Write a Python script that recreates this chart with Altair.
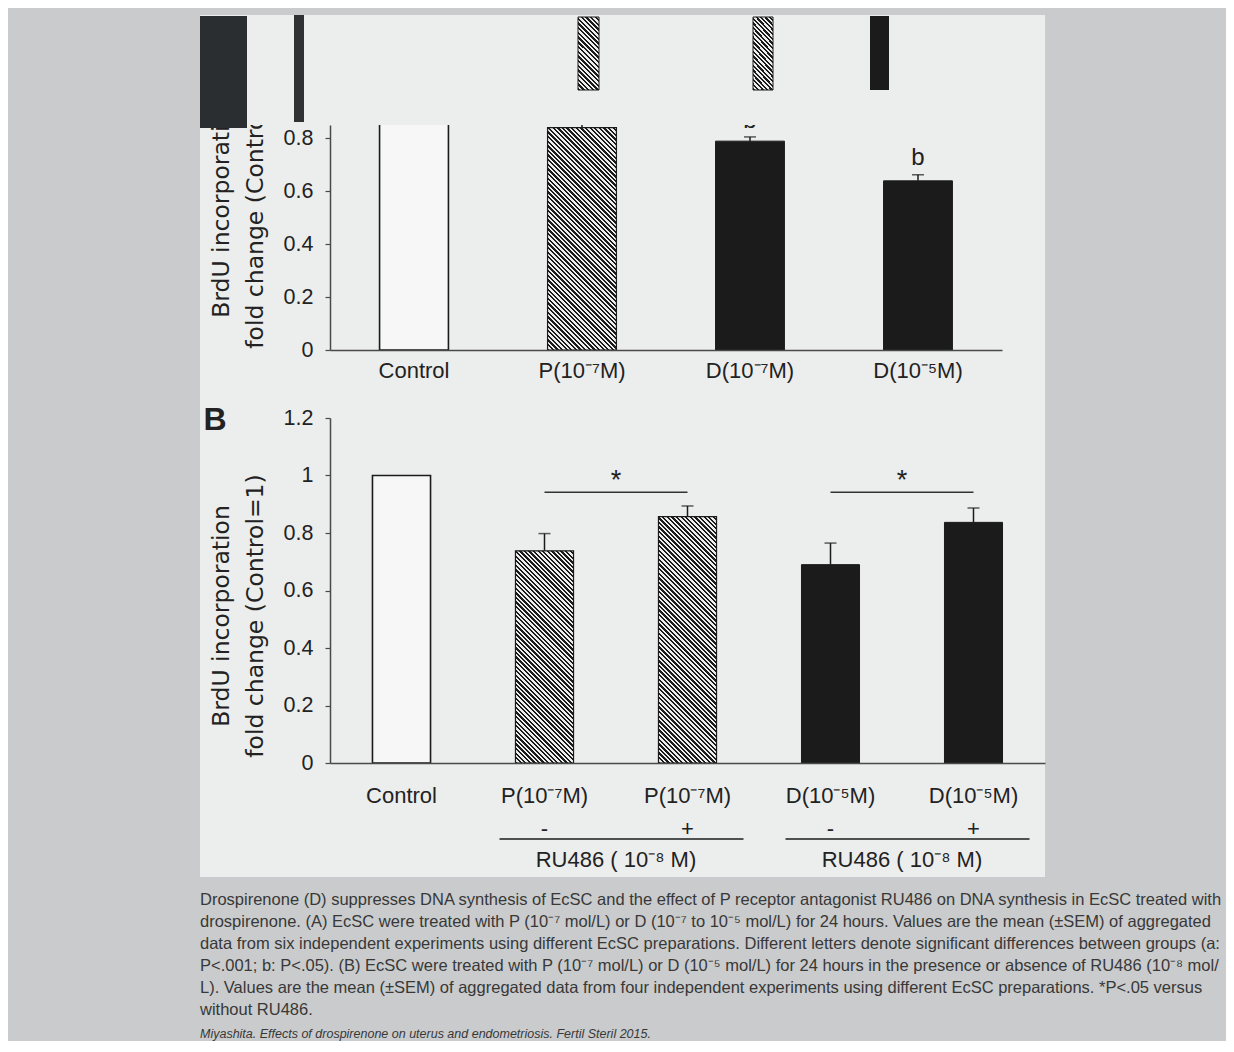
import altair as alt
import pandas as pd

# ---------------- data ----------------
a_keys = ["C", "P7", "D7", "D5"]
a_labels = ["Control", "P(10⁻⁷M)", "D(10⁻⁷M)", "D(10⁻⁵M)"]
a_means = [1.0, 0.84, 0.789, 0.639]
a_sems = [0.0, 0.02, 0.016, 0.023]
a_letters = ["", "", "b", "b"]
a_style = ["open", "hatch", "solid", "solid"]

b_keys = ["C", "Pm", "Pp", "Dm", "Dp"]
b_labels = ["Control", "P(10⁻⁷M)", "P(10⁻⁷M)", "D(10⁻⁵M)", "D(10⁻⁵M)"]
b_means = [1.0, 0.738, 0.857, 0.690, 0.837]
b_sems = [0.0, 0.060, 0.037, 0.075, 0.050]
b_ru486 = ["", "-", "+", "-", "+"]
b_style = ["open", "hatch", "hatch", "solid", "solid"]
b_pair_start = ["Pm", "Dm"]
b_pair_end = ["Pp", "Dp"]
b_sig_level = [0.942, 0.942]
b_sig_mark = ["*", "*"]
ru486_label = "RU486 ( 10⁻⁸ M)"

y_title = ["BrdU incorporation", "fold change (Control=1)"]
a_ticks = [0, 0.2, 0.4, 0.6, 0.8]
b_ticks = [0, 0.2, 0.4, 0.6, 0.8, 1.0, 1.2]

caption_lines = [
    "Drospirenone (D) suppresses DNA synthesis of EcSC and the effect of P receptor antagonist RU486 on DNA synthesis in EcSC treated with",
    "drospirenone. (A) EcSC were treated with P (10⁻⁷ mol/L) or D (10⁻⁷ to 10⁻⁵ mol/L) for 24 hours. Values are the mean (±SEM) of aggregated",
    "data from six independent experiments using different EcSC preparations. Different letters denote significant differences between groups (a:",
    "P<.001; b: P<.05). (B) EcSC were treated with P (10⁻⁷ mol/L) or D (10⁻⁵ mol/L) for 24 hours in the presence or absence of RU486 (10⁻⁸ mol/",
    "L). Values are the mean (±SEM) of aggregated data from four independent experiments using different EcSC preparations. *P<.05 versus",
    "without RU486.",
]
source_line = "Miyashita. Effects of drospirenone on uterus and endometriosis. Fertil Steril 2015."

# ---------------- style ----------------
OUTER = "#c9cbcc"
PANEL = "#eceded"
INK = "#1b1b1b"
AXIS = "#4a4a4a"
TXT = "#222222"
LABEL_FONT = "Liberation Sans"
TITLE_FONT = "DejaVu Sans"

WA, HA, TOPA = 672, 225, 0.85
WB, HB, TOPB = 715, 345, 1.2
LEFT = 130
PI_A, PI_B = 0.59, 0.594


def hatch(w, h, period=4.6, frac=0.5, dark=INK, light="#eeeeee"):
    a = w / h
    k = (a + 1) / (a * a + 1)
    n = max(1, int(round((w + h) / period)))
    stops = []
    for i in range(n):
        o0, o1, o2 = i / n, (i + frac) / n, (i + 1) / n
        stops += [
            alt.GradientStop(color=dark, offset=o0),
            alt.GradientStop(color=dark, offset=o1),
            alt.GradientStop(color=light, offset=o1),
            alt.GradientStop(color=light, offset=o2),
        ]
    return alt.LinearGradient(gradient="linear", stops=stops, x1=0, y1=1, x2=k * a, y2=1 - k)


def label_expr(keys, labels):
    e = "''"
    for k, l in reversed(list(zip(keys, labels))):
        e = f"datum.value === '{k}' ? '{l}' : ({e})"
    return e


def x_axis(keys, labels, pad):
    return alt.Axis(title=None, labelExpr=label_expr(keys, labels), labelAngle=0, ticks=False,
                    tickSize=0, labelPadding=pad, labelFont=LABEL_FONT, labelFontSize=22,
                    labelColor=TXT, domainColor=AXIS, domainWidth=1.5, labelOverlap=False, zindex=1)


def y_axis(values):
    return alt.Axis(title=None, values=values, format="~g", grid=False, tickSize=5, tickColor=AXIS,
                    tickWidth=1.2, labelPadding=12, labelFont=LABEL_FONT, labelFontSize=21.5,
                    labelColor=TXT, domainColor=AXIS, domainWidth=1.5, zindex=1)


one = pd.DataFrame({"k": [0]})


def vrect(x, x2, y, y2, fill):
    return alt.Chart(one).mark_rect(fill=fill).encode(
        x=alt.value(x), x2=alt.value(x2), y=alt.value(y), y2=alt.value(y2))


def vtext(text, x, y, **kw):
    return alt.Chart(one).mark_text(text=text, **kw).encode(x=alt.value(x), y=alt.value(y))


def panel(keys, labels, means, sems, style, W, H, top, ticks, pinner, xpad):
    df = pd.DataFrame({"key": keys, "mean": means, "sem": sems, "style": style})
    xs = alt.Scale(domain=keys, paddingInner=pinner, paddingOuter=pinner / 2)
    ys = alt.Scale(domain=[0, top], nice=False)
    xa = x_axis(keys, labels, xpad)
    ya = y_axis(ticks)
    xenc = alt.X("key:N", scale=xs, axis=xa)
    yenc = alt.Y("mean:Q", scale=ys, axis=ya)
    step = W / len(keys)
    bw = step * (1 - pinner)
    pxu = H / top
    layers = []
    layers.append(alt.Chart(df).transform_filter("datum.style === 'open'").mark_bar(
        fill="#f7f7f7", stroke=INK, strokeWidth=1.6).encode(x=xenc, y=yenc))
    for k, m, s in zip(keys, means, style):
        if s == "hatch":
            layers.append(alt.Chart(df).transform_filter(f"datum.key === '{k}'").mark_bar(
                fill=hatch(bw, m * pxu), stroke=INK, strokeWidth=1.2).encode(x=xenc, y=yenc))
    layers.append(alt.Chart(df).transform_filter("datum.style === 'solid'").mark_bar(
        fill=INK, stroke=INK, strokeWidth=1).encode(x=xenc, y=yenc))
    err = alt.Chart(df).transform_filter("datum.sem > 0").transform_calculate(
        top="datum.mean + datum.sem")
    layers.append(err.mark_rule(color=INK, strokeWidth=1.5).encode(x=xenc, y=yenc, y2="top:Q"))
    layers.append(err.mark_tick(color=INK, size=12, thickness=1.5).encode(
        x=xenc, y=alt.Y("top:Q", scale=ys, axis=ya)))
    return df, xs, ys, xa, ya, xenc, layers


# ---------------- panel A ----------------
dfA, xsA, ysA, xaA, yaA, xA, layA = panel(a_keys, a_labels, a_means, a_sems, a_style,
                                          WA, HA, TOPA, a_ticks, PI_A, 10)
dfA["letter"] = a_letters
letters = alt.Chart(dfA).transform_filter("datum.letter !== ''").transform_calculate(
    ly="datum.mean + datum.sem + 0.062").mark_text(
    font=LABEL_FONT, fontSize=24, color=TXT, baseline="middle").encode(
    x=xA, y=alt.Y("ly:Q", scale=ysA, axis=yaA), text="letter:N")

panelA = alt.layer(
    vrect(-LEFT, WB, -110, HA + 45, PANEL),
    *layA,
    letters,
    vtext(y_title[0], -108, 82, angle=270, font=TITLE_FONT, fontSize=23.5, color=TXT,
          align="center", baseline="middle"),
    vtext(y_title[1], -74, 82, angle=270, font=TITLE_FONT, fontSize=23.5, color=TXT,
          align="center", baseline="middle"),
    # scanned-over strip hiding the top of panel A
    vrect(-LEFT, WB, -110, 0, PANEL),
    vrect(-LEFT, -83, -109, 3, "#2b2e30"),
    vrect(-36, -26, -110, -3, "#2f3133"),
    vrect(540, 559, -109, -35, INK),
    alt.Chart(one).mark_rect(fill=hatch(21, 73), stroke=INK, strokeWidth=1).encode(
        x=alt.value(248), x2=alt.value(269), y=alt.value(-108), y2=alt.value(-35)),
    alt.Chart(one).mark_rect(fill=hatch(21, 73), stroke=INK, strokeWidth=1).encode(
        x=alt.value(423), x2=alt.value(443), y=alt.value(-108), y2=alt.value(-35)),
).properties(width=WA, height=HA)

# ---------------- panel B ----------------
dfB, xsB, ysB, xaB, yaB, xB, layB = panel(b_keys, b_labels, b_means, b_sems, b_style,
                                          WB, HB, TOPB, b_ticks, PI_B, 22)
dfB["ru"] = b_ru486
stepB = WB / len(b_keys)
pairs = pd.DataFrame({"start": b_pair_start, "end": b_pair_end, "lvl": b_sig_level,
                      "mark": b_sig_mark, "ru": [ru486_label] * len(b_pair_start)})
xS = alt.X("start:N", scale=xsB, axis=xaB)
x2E = alt.X2("end:N", bandPosition=0.5)

sig_rule = alt.Chart(pairs).mark_rule(color="#333", strokeWidth=1.5).encode(
    x=alt.X("start:N", scale=xsB, axis=xaB, bandPosition=0.5), x2=x2E,
    y=alt.Y("lvl:Q", scale=ysB, axis=yaB))
sig_star = alt.Chart(pairs).transform_calculate(sy="datum.lvl + 0.04").mark_text(
    font=LABEL_FONT, fontSize=27, color=TXT, dx=stepB / 2, baseline="middle").encode(
    x=xS, y=alt.Y("sy:Q", scale=ysB, axis=yaB), text="mark:N")
signs = alt.Chart(dfB).transform_filter("datum.ru !== ''").mark_text(
    font=LABEL_FONT, fontSize=22, color=TXT, baseline="middle").encode(
    x=xB, y=alt.value(HB + 66), text="ru:N")
brackets = alt.Chart(pairs).mark_rule(color=INK, strokeWidth=1.6, xOffset=-45, x2Offset=56).encode(
    x=alt.X("start:N", scale=xsB, axis=xaB, bandPosition=0.5), x2=x2E, y=alt.value(HB + 76))
ru_text = alt.Chart(pairs).mark_text(
    font=LABEL_FONT, fontSize=22, color=TXT, baseline="middle", dx=stepB / 2).encode(
    x=xS, y=alt.value(HB + 97), text="ru:N")

panelB = alt.layer(
    vrect(-LEFT, WB, -23, HB + 114, PANEL),
    *layB,
    sig_rule, sig_star, signs, brackets, ru_text,
    vtext("B", -115, 2, font=LABEL_FONT, fontSize=32, fontWeight="bold", color=TXT,
          align="center", baseline="middle"),
    vtext(y_title[0], -108, 198, angle=270, font=TITLE_FONT, fontSize=23.5, color=TXT,
          align="center", baseline="middle"),
    vtext(y_title[1], -74, 198, angle=270, font=TITLE_FONT, fontSize=23.5, color=TXT,
          align="center", baseline="middle"),
).properties(width=WB, height=HB)

# ---------------- caption ----------------
cap = pd.DataFrame({"line": list(range(len(caption_lines))), "text": caption_lines})
src = pd.DataFrame({"line": [6.1], "text": [source_line]})
ycap = alt.Y("line:Q", scale=alt.Scale(domain=[0, 6.5], range=[23, 166]), axis=None)
caption = alt.layer(
    vrect(-LEFT, 896, 0, 164, OUTER),
    alt.Chart(cap).mark_text(align="left", baseline="middle", font=LABEL_FONT, fontSize=16.5,
                             color="#383838").encode(x=alt.value(-LEFT), y=ycap, text="text:N"),
    alt.Chart(src).mark_text(align="left", baseline="middle", font=LABEL_FONT, fontSize=12.5,
                             fontStyle="italic", color="#383838").encode(
        x=alt.value(-LEFT), y=ycap, text="text:N"),
).properties(width=560, height=164)

chart = alt.vconcat(panelA, panelB, caption, spacing=0).properties(
    padding={"left": 192, "top": 7, "right": 0, "bottom": 0}, background=OUTER
).configure_view(strokeWidth=0)

chart.save("out.html", embed_options={"renderer": "svg", "actions": False})
